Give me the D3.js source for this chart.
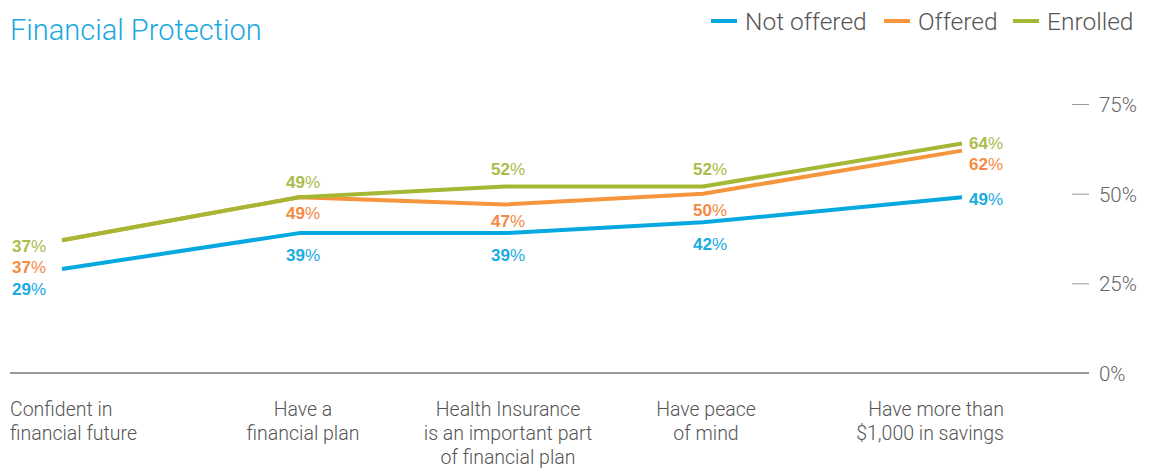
<!DOCTYPE html>
<html>
<head>
<meta charset="utf-8">
<script src="https://cdn.jsdelivr.net/npm/d3@7"></script>
<style>
  html, body { margin: 0; padding: 0; background: #fff; }
  svg { display: block; }
  .light { font-family: Roboto, "Liberation Sans", Arial, sans-serif; font-weight: 300; }
  .val { font-family: "Liberation Sans", Arial, sans-serif; }
</style>
</head>
<body>
<svg id="chart" width="1154" height="468"></svg>
<script>
// Survey categories (x axis), multi-line labels
const categories = [
  "Confident in financial future",
  "Have a financial plan",
  "Health Insurance is an important part of financial plan",
  "Have peace of mind",
  "Have more than $1,000 in savings"
];
const categoryLines = [
  ["Confident in", "financial future"],
  ["Have a", "financial plan"],
  ["Health Insurance", "is an important part", "of financial plan"],
  ["Have peace", "of mind"],
  ["Have more than", "$1,000 in savings"]
];

// Share of respondents (%) per group
const notOffered = [29, 39, 39, 42, 49];
const offered    = [37, 49, 47, 50, 62];
const enrolled   = [37, 49, 52, 52, 64];

const seriesNames = ["Not offered", "Offered", "Enrolled"];
const yTicks = [0, 25, 50, 75];

// ---- layout & style ----
const colors = { "Not offered": "#05a9e0", "Offered": "#f7943e", "Enrolled": "#a5b734" };
const labelColors = { "Not offered": "#1aabe2", "Offered": "#f58a45", "Enrolled": "#a9bd4c" };
const series = [
  { name: "Not offered", values: notOffered },
  { name: "Offered", values: offered },
  { name: "Enrolled", values: enrolled }
];

const svg = d3.select("#chart");

// x positions of the five categories across the plot
const xPos = [62, 299, 505, 703, 962];
const x = d3.scaleOrdinal().domain(categories).range(xPos);
const y = d3.scaleLinear().domain([0, 75]).range([373, 104]);

// Title
svg.append("text")
  .attr("class", "light")
  .attr("x", 10).attr("y", 40)
  .attr("font-size", 29)
  .attr("fill", "#19a8df")
  .text("Financial Protection");

// Legend
const legendX = { "Not offered": 711, "Offered": 884, "Enrolled": 1013 };
const leg = svg.append("g");
seriesNames.forEach(n => {
  leg.append("rect")
    .attr("x", legendX[n]).attr("y", 19)
    .attr("width", 26).attr("height", 4)
    .attr("fill", colors[n]);
  leg.append("text")
    .attr("class", "light")
    .attr("x", legendX[n] + 34).attr("y", 30)
    .attr("font-size", 24.5)
    .attr("fill", "#555")
    .text(n);
});

// Right-hand y axis: short dashes with percent labels
const yAxis = d3.axisRight(y)
  .tickValues(yTicks)
  .tickSize(0)
  .tickPadding(0)
  .tickFormat(d => d + "%");
const ax = svg.append("g").attr("transform", "translate(1072,0)").call(yAxis);
ax.select(".domain").remove();
ax.selectAll(".tick").each(function(d) {
  const g = d3.select(this);
  g.append("line")
    .attr("x1", 0).attr("x2", 17)
    .attr("stroke", d === 0 ? "none" : "#9a9a9a")
    .attr("stroke-width", 1);
  g.select("text")
    .attr("class", "light")
    .attr("x", 27)
    .attr("dy", "0.36em")
    .attr("font-size", 20.5)
    .attr("fill", "#666")
    .attr("font-family", null);
});

// Baseline
svg.append("line")
  .attr("x1", 10).attr("x2", 1089)
  .attr("y1", y(0)).attr("y2", y(0))
  .attr("stroke", "#777").attr("stroke-width", 1.6);

// Category labels
const anchors = ["start", "middle", "middle", "middle", "end"];
const labelX = [10, 303, 508, 706, 1004];
categories.forEach((c, i) => {
  const t = svg.append("text")
    .attr("class", "light")
    .attr("font-size", 19.5)
    .attr("fill", "#555")
    .attr("text-anchor", anchors[i]);
  categoryLines[i].forEach((ln, j) => {
    t.append("tspan")
      .attr("x", labelX[i])
      .attr("y", 416 + j * 24)
      .text(ln);
  });
});

// Lines
const line = d3.line()
  .x((d, i) => x(categories[i]))
  .y(d => y(d));
series.forEach(s => {
  svg.append("path")
    .datum(s.values)
    .attr("fill", "none")
    .attr("stroke", colors[s.name])
    .attr("stroke-width", 4)
    .attr("stroke-linejoin", "round")
    .attr("d", line);
});

// Value labels: offsets from each point (dx, dy to text centre)
const labelOffset = {
  "Enrolled":    [[-16, 6], [4, -15], [3, -18], [7, -18], [7, -1]],
  "Offered":     [[-16, 27], [4, 16], [3, 16], [7, 16], [7, 13]],
  "Not offered": [[-16, 20], [4, 22], [3, 22], [7, 22], [7, 2]]
};
const labelAnchor = ["end", "middle", "middle", "middle", "start"];
series.forEach(s => {
  s.values.forEach((v, i) => {
    const [dx, dy] = labelOffset[s.name][i];
    const t = svg.append("text")
      .attr("class", "val")
      .attr("x", x(categories[i]) + dx)
      .attr("y", y(v) + dy)
      .attr("dy", "0.36em")
      .attr("font-size", 17)
      .attr("fill", labelColors[s.name])
      .attr("text-anchor", labelAnchor[i]);
    t.append("tspan").attr("font-weight", "bold").text(v);
    t.append("tspan").attr("font-weight", "normal").text("%");
  });
});
</script>
</body>
</html>
